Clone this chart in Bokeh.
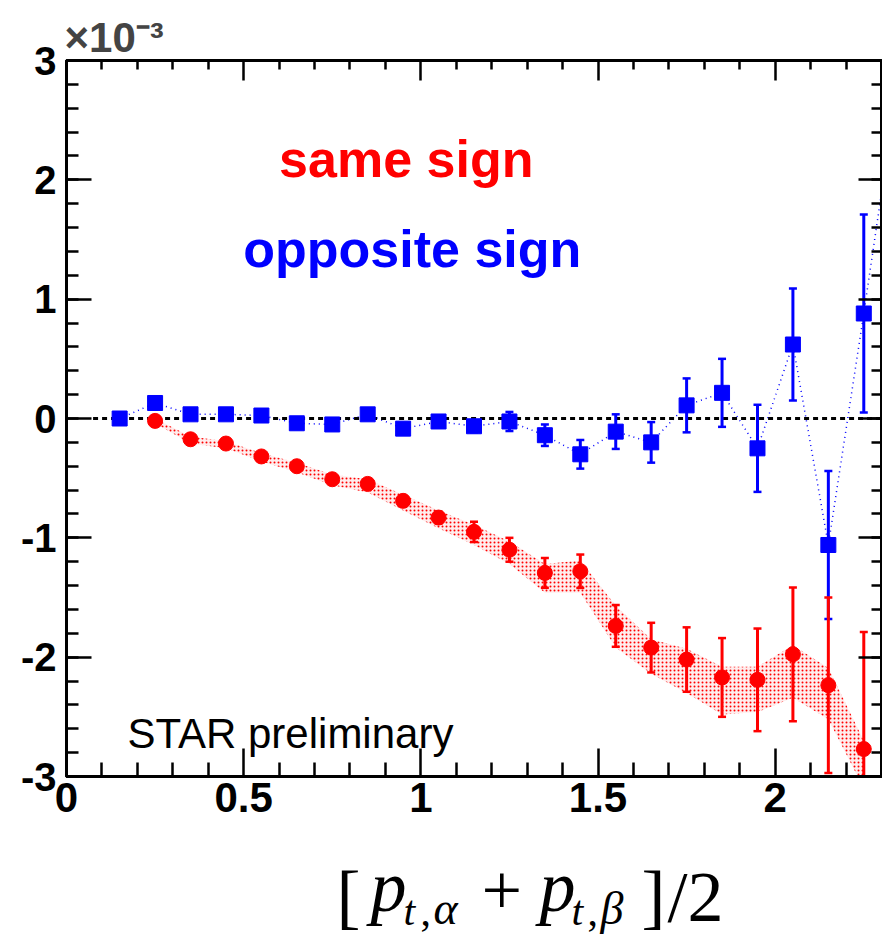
from bokeh.plotting import figure
from bokeh.models import ColumnDataSource, Range1d, FixedTicker, LinearAxis
from bokeh.layouts import column
from bokeh.core.properties import value
from bokeh.embed import file_html
from bokeh.resources import INLINE

# ---------------- data (y in units of 1e-3) ----------------
x_same = [0.25, 0.35, 0.45, 0.55, 0.65, 0.75, 0.85, 0.95, 1.05, 1.15, 1.25,
          1.35, 1.45, 1.55, 1.65, 1.75, 1.85, 1.95, 2.05, 2.15, 2.25]
y_same = [-0.02, -0.174, -0.21, -0.318, -0.40, -0.509, -0.548, -0.69, -0.83, -0.95, -1.10,
          -1.294, -1.28, -1.738, -1.92, -2.02, -2.17, -2.19, -1.976, -2.235, -2.77]
err_same = [0.01, 0.015, 0.02, 0.02, 0.02, 0.025, 0.03, 0.035, 0.05, 0.085, 0.10,
            0.125, 0.14, 0.175, 0.208, 0.27, 0.33, 0.43, 0.56, 0.735, 0.98]
sys_same_hi = [0.00, -0.15, -0.19, -0.29, -0.37, -0.47, -0.51, -0.64, -0.77, -0.89, -1.03,
               -1.22, -1.19, -1.57, -1.85, -1.93, -2.08, -2.08, -1.90, -2.09, -2.70]
sys_same_lo = [-0.04, -0.21, -0.25, -0.36, -0.45, -0.56, -0.62, -0.77, -0.92, -1.06, -1.22,
               -1.46, -1.46, -1.92, -2.14, -2.30, -2.48, -2.46, -2.34, -2.52, -3.10]

x_opp = [0.15, 0.25, 0.35, 0.45, 0.55, 0.65, 0.75, 0.85, 0.95, 1.05, 1.15, 1.25,
         1.35, 1.45, 1.55, 1.65, 1.75, 1.85, 1.95, 2.05, 2.15, 2.25, 2.35]
y_opp = [0.00, 0.13, 0.035, 0.035, 0.025, -0.04, -0.05, 0.035, -0.085, -0.025, -0.065, -0.025,
         -0.14, -0.30, -0.11, -0.20, 0.11, 0.215, -0.25, 0.62, -1.06, 0.88, 2.9]
err_opp = [0.01, 0.02, 0.02, 0.02, 0.02, 0.025, 0.025, 0.03, 0.035, 0.04, 0.05, 0.08,
           0.09, 0.12, 0.145, 0.17, 0.226, 0.285, 0.365, 0.47, 0.62, 0.83, 1.0]

zero_line_x = [0.075, 2.3]
zero_line_y = [0.0, 0.0]

x_ticks = [0, 0.5, 1, 1.5, 2]
x_tick_labels = ["0", "0.5", "1", "1.5", "2"]
x_minor_ticks = [0.1, 0.2, 0.3, 0.4, 0.6, 0.7, 0.8, 0.9, 1.1, 1.2, 1.3, 1.4,
                 1.6, 1.7, 1.8, 1.9, 2.1, 2.2]
y_ticks = [-3, -2, -1, 0, 1, 2, 3]
y_tick_labels = ["-3", "-2", "-1", "0", "1", "2", "3"]
y_minor_ticks = [round(-3 + 0.2 * i, 2) for i in range(31)]

# ---------------- sources ----------------
src_same = ColumnDataSource(dict(
    x=x_same, y=y_same,
    up=[a + b for a, b in zip(y_same, err_same)],
    dn=[a - b for a, b in zip(y_same, err_same)],
    hi=sys_same_hi, lo=sys_same_lo))
src_opp = ColumnDataSource(dict(
    x=x_opp, y=y_opp,
    up=[a + b for a, b in zip(y_opp, err_opp)],
    dn=[a - b for a, b in zip(y_opp, err_opp)]))

RED = "#ff0000"
BLUE = "#0000ff"
SANS = "Liberation Sans"
SERIF = "Liberation Serif"

p = figure(width=882, height=835, x_range=Range1d(0, 2.3), y_range=Range1d(-3, 3),
           output_backend="svg", toolbar_location=None,
           min_border_left=66, min_border_right=1, min_border_top=60, min_border_bottom=59)
p.xgrid.visible = False
p.ygrid.visible = False
p.outline_line_color = "black"
p.outline_line_width = 3
p.background_fill_color = "white"
p.border_fill_color = "white"

# exponent marker as title above the frame
p.title.text = "\u00d710\u207b\u00b3"
p.title.text_font = SANS
p.title.text_font_size = "42px"
p.title.text_font_style = "bold"
p.title.align = "left"
p.title.offset = -2
p.title.standoff = 0

# systematic band (same sign)
p.varea(x="x", y1="lo", y2="hi", source=src_same, fill_color=RED, fill_alpha=0.07,
        hatch_pattern="dot", hatch_color=RED, hatch_scale=4, hatch_weight=1.3, hatch_alpha=1.0)

# dotted line (opposite sign)
p.line(x="x", y="y", source=src_opp, line_color=BLUE, line_width=1.5, line_dash="1 4")

# zero line
p.line(zero_line_x, zero_line_y, line_color="black", line_width=3, line_dash="5 4")

# error bars
for src, col in ((src_opp, BLUE), (src_same, RED)):
    p.segment(x0="x", y0="dn", x1="x", y1="up", source=src, line_color=col, line_width=3)
    p.scatter(x="x", y="up", source=src, marker="dash", size=8, line_color=col, line_width=2.5)
    p.scatter(x="x", y="dn", source=src, marker="dash", size=8, line_color=col, line_width=2.5)

p.scatter(x="x", y="y", source=src_opp, marker="square", size=15, fill_color=BLUE, line_color=BLUE)
p.scatter(x="x", y="y", source=src_same, marker="circle", size=15, fill_color=RED, line_color=RED)

# ---------------- axes ----------------
def style_axis(ax, major_in, minor_in, ticks=None):
    ax.axis_line_width = 3
    ax.axis_line_color = "black"
    ax.major_tick_line_width = 2.5
    ax.minor_tick_line_width = 2.5
    ax.major_tick_out = 0
    ax.minor_tick_out = 0
    ax.major_tick_in = major_in
    ax.minor_tick_in = minor_in
    ax.major_label_text_font = SANS
    ax.major_label_text_font_style = "bold"
    ax.major_label_text_color = "black"
    if ticks is not None:   # mirrored axis: ticks only, no labels
        ax.major_label_overrides = {t: "" for t in ticks}
        ax.major_label_standoff = 0

p.xaxis.ticker = FixedTicker(ticks=x_ticks, minor_ticks=x_minor_ticks)
p.xaxis.major_label_overrides = {t: l for t, l in zip(x_ticks, x_tick_labels)}
style_axis(p.xaxis[0], 28, 14)
p.xaxis.major_label_text_font_size = "42px"
p.xaxis.major_label_standoff = 6

p.yaxis.ticker = FixedTicker(ticks=y_ticks, minor_ticks=y_minor_ticks)
p.yaxis.major_label_overrides = {t: l for t, l in zip(y_ticks, y_tick_labels)}
style_axis(p.yaxis[0], 25, 12)
p.yaxis.major_label_text_font_size = "40px"
p.yaxis.major_label_standoff = 10

top = LinearAxis(ticker=FixedTicker(ticks=x_ticks, minor_ticks=x_minor_ticks))
style_axis(top, 20, 9, ticks=x_ticks)
p.add_layout(top, "above")
right = LinearAxis(ticker=FixedTicker(ticks=y_ticks, minor_ticks=y_minor_ticks))
style_axis(right, 23, 10, ticks=y_ticks)
p.add_layout(right, "right")

# ---------------- texts ----------------
# the text box is anchored near the middle of the em box; lift by ~0.35 em so that
# the requested y is where the alphabetic baseline lands
def txt(fig, x, y, text, size_px, color="black", font=SANS, style="normal", px_per_unit=1.0):
    lift = 0.35 * size_px / px_per_unit
    fig.text(x=[x], y=[y + lift], text=[text], text_font=value(font),
             text_font_size=f"{size_px}px", text_font_style=style, text_color=color,
             text_baseline="alphabetic", text_align="left")

PXU = 716 / 6.0  # pixels per y unit in the main frame
txt(p, 0.600, 2.02, "same sign", 52, RED, style="bold", px_per_unit=PXU)
txt(p, 0.499, 1.265, "opposite sign", 52, BLUE, style="bold", px_per_unit=PXU)
txt(p, 0.172, -2.765, "STAR preliminary", 42, px_per_unit=PXU)

# ---------------- x-axis title strip:  [ p_{t,alpha} + p_{t,beta} ]/2 ----------------
# the strip's frame is aligned with the main frame (x 66..881), y in page pixels (flipped)
q = figure(width=882, height=101, x_range=Range1d(66, 881), y_range=Range1d(-936, -835),
           output_backend="svg", toolbar_location=None, x_axis_type=None, y_axis_type=None,
           min_border_left=0, min_border_right=0, min_border_top=0, min_border_bottom=0)
q.xgrid.visible = False
q.ygrid.visible = False
q.outline_line_color = None
q.border_fill_color = "white"

def ttl(x, base, text, size_px, style="normal"):
    txt(q, x, -base, text, size_px, font=SERIF, style=style)

ttl(336, 921, "[", 72)
ttl(370, 912, "p", 72, "italic")
ttl(403, 925, "t", 42, "italic")
ttl(420, 925, ",", 42)
ttl(433, 924, "\u03b1", 46, "italic")
ttl(481, 915, "+", 72)
ttl(539, 912, "p", 72, "italic")
ttl(571, 925, "t", 42, "italic")
ttl(587, 925, ",", 42)
ttl(600, 924, "\u03b2", 46, "italic")
ttl(641, 921, "]", 72)
ttl(667, 922, "/2", 72)

layout = column(p, q, spacing=0)
open("out.html", "w").write(file_html(layout, INLINE))
